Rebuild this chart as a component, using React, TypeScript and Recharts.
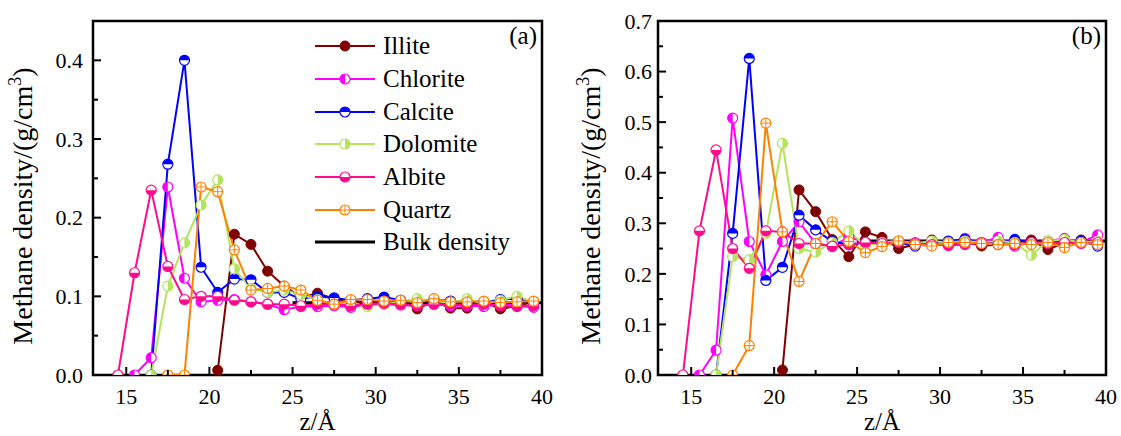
import React from 'react';
import { LineChart, Line, XAxis, YAxis, ReferenceArea } from 'recharts';

const FONT = "'Liberation Serif', 'Times New Roman', Times, Tinos, 'Nimbus Roman', 'Noto Serif', 'DejaVu Serif', FreeSerif, serif";

// z positions (Å) shared by every series
const zValues = [
  14.5, 15.5, 16.5, 17.5, 18.5, 19.5, 20.5, 21.5, 22.5, 23.5, 24.5, 25.5, 26.5,
  27.5, 28.5, 29.5, 30.5, 31.5, 32.5, 33.5, 34.5, 35.5, 36.5, 37.5, 38.5, 39.5,
];

// panel (a)
const illiteA = [null, null, null, null, null, null, 0.006, 0.179, 0.166, 0.132, 0.113, 0.099, 0.104, 0.097, 0.093, 0.092, 0.093, 0.095, 0.084, 0.094, 0.085, 0.085, 0.093, 0.084, 0.088, 0.093];
const chloriteA = [null, 0, 0.022, 0.239, 0.123, 0.093, 0.095, 0.096, 0.093, 0.09, 0.083, 0.087, 0.087, 0.088, 0.086, 0.09, 0.09, 0.089, 0.088, 0.09, 0.088, 0.088, 0.087, 0.09, 0.088, 0.086];
const calciteA = [null, null, 0, 0.268, 0.4, 0.137, 0.105, 0.122, 0.121, 0.105, 0.105, 0.097, 0.1, 0.098, 0.095, 0.097, 0.099, 0.095, 0.092, 0.096, 0.094, 0.09, 0.092, 0.096, 0.097, 0.092];
const dolomiteA = [null, null, 0, 0.113, 0.168, 0.216, 0.248, 0.135, 0.11, 0.105, 0.108, 0.102, 0.096, 0.09, 0.092, 0.087, 0.09, 0.093, 0.097, 0.094, 0.092, 0.097, 0.09, 0.095, 0.1, 0.093];
const albiteA = [0, 0.13, 0.235, 0.138, 0.096, 0.1, 0.1, 0.095, 0.093, 0.09, 0.09, 0.088, 0.09, 0.09, 0.088, 0.09, 0.091, 0.09, 0.088, 0.09, 0.09, 0.089, 0.09, 0.088, 0.087, 0.088];
const quartzA = [null, null, null, 0, 0, 0.239, 0.233, 0.159, 0.108, 0.11, 0.113, 0.108, 0.095, 0.09, 0.096, 0.096, 0.094, 0.095, 0.092, 0.097, 0.093, 0.093, 0.094, 0.092, 0.093, 0.094];

// panel (b)
const illiteB = [null, null, null, null, null, null, 0.01, 0.366, 0.323, 0.268, 0.234, 0.283, 0.272, 0.25, 0.258, 0.267, 0.258, 0.264, 0.255, 0.258, 0.262, 0.267, 0.248, 0.262, 0.267, 0.262];
const chloriteB = [null, 0, 0.049, 0.508, 0.264, 0.198, 0.264, 0.303, 0.26, 0.254, 0.273, 0.262, 0.262, 0.265, 0.262, 0.26, 0.264, 0.27, 0.262, 0.272, 0.255, 0.262, 0.265, 0.27, 0.262, 0.277];
const calciteB = [null, null, 0, 0.28, 0.626, 0.187, 0.213, 0.316, 0.287, 0.264, 0.258, 0.262, 0.262, 0.262, 0.255, 0.262, 0.265, 0.268, 0.262, 0.26, 0.268, 0.262, 0.262, 0.265, 0.265, 0.255];
const dolomiteB = [null, null, 0, 0.234, 0.228, 0.28, 0.458, 0.25, 0.243, 0.262, 0.285, 0.255, 0.262, 0.265, 0.26, 0.265, 0.262, 0.265, 0.262, 0.265, 0.262, 0.237, 0.265, 0.268, 0.262, 0.265];
const albiteB = [0, 0.285, 0.445, 0.25, 0.211, 0.285, 0.283, 0.26, 0.26, 0.255, 0.258, 0.262, 0.26, 0.262, 0.26, 0.258, 0.256, 0.258, 0.262, 0.258, 0.258, 0.262, 0.26, 0.262, 0.26, 0.262];
const quartzB = [null, null, null, 0, 0.058, 0.498, 0.283, 0.185, 0.26, 0.303, 0.264, 0.242, 0.254, 0.265, 0.258, 0.255, 0.262, 0.262, 0.26, 0.258, 0.26, 0.258, 0.262, 0.252, 0.262, 0.258];

// bulk density reference
const bulkZ = [25, 40];
const bulkA = [0.092, 0.092];
const bulkB = [0.265, 0.265];

const xTicks = [15, 17.5, 20, 22.5, 25, 27.5, 30, 32.5, 35, 37.5, 40];
const yTicksA = [0, 0.05, 0.1, 0.15, 0.2, 0.25, 0.3, 0.35, 0.4];
const yTicksB = [0, 0.05, 0.1, 0.15, 0.2, 0.25, 0.3, 0.35, 0.4, 0.45, 0.5, 0.55, 0.6, 0.65, 0.7];

type Kind = 'full' | 'left' | 'right' | 'top' | 'bottom' | 'cross';

const SERIES: { key: string; name: string; color: string; kind: Kind }[] = [
  { key: 'illite', name: 'Illite', color: '#800000', kind: 'full' },
  { key: 'chlorite', name: 'Chlorite', color: '#FF00FF', kind: 'left' },
  { key: 'calcite', name: 'Calcite', color: '#0000FF', kind: 'top' },
  { key: 'dolomite', name: 'Dolomite', color: '#B4E35C', kind: 'right' },
  { key: 'albite', name: 'Albite', color: '#FF0A8C', kind: 'bottom' },
  { key: 'quartz', name: 'Quartz', color: '#FF8000', kind: 'cross' },
];

const R = 5;

function Marker({ cx, cy, color, kind }: { cx: number; cy: number; color: string; kind: Kind }) {
  if (kind === 'full') {
    return <circle cx={cx} cy={cy} r={R} fill={color} stroke={color} strokeWidth={1} />;
  }
  if (kind === 'cross') {
    return (
      <g>
        <circle cx={cx} cy={cy} r={R} fill="#fff" stroke={color} strokeWidth={1.2} />
        <line x1={cx - R} x2={cx + R} y1={cy} y2={cy} stroke={color} strokeWidth={1} />
        <line x1={cx} x2={cx} y1={cy - R} y2={cy + R} stroke={color} strokeWidth={1} />
      </g>
    );
  }
  const half: Record<string, string> = {
    top: `M${cx - R},${cy} A${R},${R} 0 0 1 ${cx + R},${cy} Z`,
    bottom: `M${cx - R},${cy} A${R},${R} 0 0 0 ${cx + R},${cy} Z`,
    left: `M${cx},${cy - R} A${R},${R} 0 0 0 ${cx},${cy + R} Z`,
    right: `M${cx},${cy - R} A${R},${R} 0 0 1 ${cx},${cy + R} Z`,
  };
  return (
    <g>
      <circle cx={cx} cy={cy} r={R} fill="#fff" stroke={color} strokeWidth={1.2} />
      <path d={half[kind]} fill={color} />
    </g>
  );
}

const makeDot = (color: string, kind: Kind) => (props: any) => {
  const { cx, cy, value, index } = props;
  if (value == null || cx == null || cy == null) return <g key={`dot-${index}`} />;
  return <Marker key={`dot-${index}`} cx={cx} cy={cy} color={color} kind={kind} />;
};

const isMult = (v: number, step: number) => Math.abs(v / step - Math.round(v / step)) < 1e-6;

const makeYTick = (gap: number) => (props: any) => {
  const { x, y, payload } = props;
  const major = isMult(payload.value, 0.1);
  return (
    <g>
      <line x1={x} x2={x + (major ? 8 : 5)} y1={y} y2={y} stroke="#000" strokeWidth={2} />
      {major && (
        <text x={x - gap} y={y} dy="0.35em" textAnchor="end" fontSize={22} style={{ fontFamily: FONT }} fill="#000">
          {payload.value.toFixed(1)}
        </text>
      )}
    </g>
  );
};

const XTick = (props: any) => {
  const { x, y, payload } = props;
  const major = isMult(payload.value, 5);
  return (
    <g>
      <line x1={x} x2={x} y1={y} y2={y - (major ? 8 : 5)} stroke="#000" strokeWidth={2} />
      {major && (
        <text x={x} y={y + 13} dy="0.71em" textAnchor="middle" fontSize={22} style={{ fontFamily: FONT }} fill="#000">
          {payload.value}
        </text>
      )}
    </g>
  );
};

const yTitle = (tx: number) => () => {
  const ty = 206;
  return (
    <text
      x={tx}
      y={ty}
      transform={`rotate(-90 ${tx} ${ty})`}
      textAnchor="middle"
      fontSize={28}
      style={{ fontFamily: FONT }}
      fill="#000"
    >
      Methane density/(g/cm
      <tspan dy={-11} fontSize={18}>3</tspan>
      <tspan dy={11}>)</tspan>
    </text>
  );
};

const xTitle = (props: any) => {
  const vb = props.viewBox;
  const cx = vb.x + vb.width / 2;
  return (
    <text x={cx} y={430} textAnchor="middle" fontSize={25} style={{ fontFamily: FONT }} fill="#000">
      z/Å
    </text>
  );
};

interface PanelProps {
  series: Record<string, (number | null)[]>;
  bulk: number[];
  yMax: number;
  yTicks: number[];
  tag: string;
  width: number;
  yAxisWidth: number;
  rightMargin: number;
  titleX: number;
  labelGap: number;
}

function Panel({ series, bulk, yMax, yTicks, tag, width, yAxisWidth, rightMargin, titleX, labelGap }: PanelProps) {
  const rows = zValues.map((z, i) => {
    const row: Record<string, number | null> = { z };
    SERIES.forEach((s) => {
      row[s.key] = series[s.key][i];
    });
    return row;
  });
  const bulkRows = bulkZ.map((z, i) => ({ z, bulk: bulk[i] }));

  return (
    <LineChart width={width} height={436} data={rows} margin={{ top: 21, right: rightMargin, bottom: 0, left: 0 }}>
      <XAxis
        dataKey="z"
        type="number"
        domain={[13, 40]}
        ticks={xTicks}
        interval={0}
        height={61}
        tickSize={0}
        tickMargin={0}
        tick={XTick}
        axisLine={false}
        tickLine={false}
        allowDataOverflow
        label={{ content: xTitle }}
      />
      <YAxis
        type="number"
        domain={[0, yMax]}
        ticks={yTicks}
        interval={0}
        width={yAxisWidth}
        tickSize={0}
        tickMargin={0}
        tick={makeYTick(labelGap)}
        axisLine={false}
        tickLine={false}
        allowDataOverflow
        label={{ content: yTitle(titleX) }}
      />
      <Line
        data={bulkRows}
        dataKey="bulk"
        stroke="#000"
        strokeWidth={3}
        dot={false}
        isAnimationActive={false}
      />
      {SERIES.map((s) => (
        <Line
          key={s.key}
          dataKey={s.key}
          stroke={s.color}
          strokeWidth={2}
          dot={makeDot(s.color, s.kind)}
          activeDot={false}
          isAnimationActive={false}
        />
      ))}
      <ReferenceArea
        x1={13}
        x2={40}
        y1={0}
        y2={yMax}
        fill="none"
        fillOpacity={0}
        stroke="#000"
        strokeWidth={2.5}
        label={{ value: tag, position: 'insideTopRight', offset: 5, fontSize: 25, style: { fontFamily: FONT }, fill: '#000' }}
      />
    </LineChart>
  );
}

function LegendBox() {
  const items = [
    ...SERIES.map((s) => ({ name: s.name, color: s.color, kind: s.kind as Kind | null })),
    { name: 'Bulk density', color: '#000', kind: null as Kind | null },
  ];
  return (
    <div style={{ position: 'absolute', left: 314, top: 30, fontFamily: FONT, fontSize: 25, color: '#000' }}>
      {items.map((it) => (
        <div key={it.name} style={{ display: 'flex', alignItems: 'center', height: 32.7, whiteSpace: 'nowrap' }}>
          <svg width={62} height={14} style={{ marginRight: 7 }}>
            <line x1={1} x2={61} y1={7} y2={7} stroke={it.color} strokeWidth={it.kind ? 2 : 3} />
            {it.kind && <Marker cx={31} cy={7} color={it.color} kind={it.kind} />}
          </svg>
          <span>{it.name}</span>
        </div>
      ))}
    </div>
  );
}

export default function App() {
  return (
    <div style={{ position: 'absolute', left: 0, top: 0, width: 1121, height: 436, background: '#fff', fontFamily: FONT }}>
      <div style={{ position: 'absolute', left: 0, top: 0 }}>
        <Panel
          series={{ illite: illiteA, chlorite: chloriteA, calcite: calciteA, dolomite: dolomiteA, albite: albiteA, quartz: quartzA }}
          bulk={bulkA}
          yMax={0.45}
          yTicks={yTicksA}
          tag="(a)"
          width={560}
          yAxisWidth={93}
          rightMargin={18}
          titleX={32}
          labelGap={10}
        />
        <LegendBox />
      </div>
      <div style={{ position: 'absolute', left: 560, top: 0 }}>
        <Panel
          series={{ illite: illiteB, chlorite: chloriteB, calcite: calciteB, dolomite: dolomiteB, albite: albiteB, quartz: quartzB }}
          bulk={bulkB}
          yMax={0.7}
          yTicks={yTicksB}
          tag="(b)"
          width={561}
          yAxisWidth={98}
          rightMargin={15}
          titleX={40}
          labelGap={6}
        />
      </div>
    </div>
  );
}
